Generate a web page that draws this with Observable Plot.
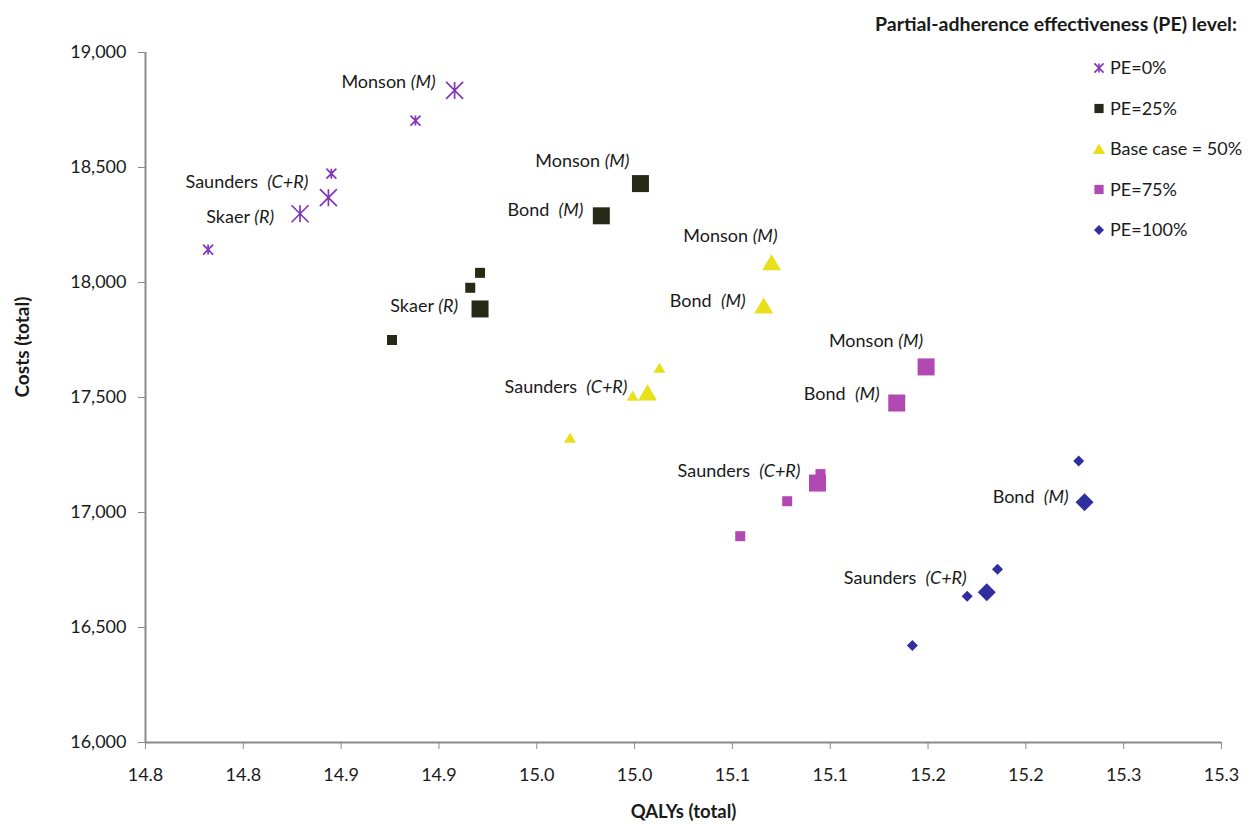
<!DOCTYPE html>
<html>
<head>
<meta charset="utf-8">
<script src="https://cdn.jsdelivr.net/npm/d3@7"></script>
<script src="https://cdn.jsdelivr.net/npm/@observablehq/plot@0.6"></script>
<style>
  html, body { margin: 0; padding: 0; background: #fff; }
  #chart { width: 1257px; height: 824px; }
</style>
</head>
<body>
<div id="chart"></div>
<script>
// ---------- data ----------
const levels = ["PE=0%", "PE=25%", "Base case = 50%", "PE=75%", "PE=100%"];
const legendTitle = "Partial-adherence effectiveness (PE) level:";

const pe0Qalys = [14.782, 14.829, 14.8435, 14.845, 14.888, 14.908];
const pe0Costs = [18143, 18299, 18369, 18473, 18704, 18835];
const pe0Labels = ["", "Skaer (R)", "Saunders  (C+R)", "", "", "Monson (M)"];

const pe25Qalys = [14.876, 14.916, 14.921, 14.921, 14.983, 15.003];
const pe25Costs = [17750, 17977, 18042, 17885, 18290, 18430];
const pe25Labels = ["", "", "", "Skaer (R)", "Bond  (M)", "Monson (M)"];

const pe50Qalys = [14.967, 14.999, 15.0127, 15.0066, 15.066, 15.070];
const pe50Costs = [17324, 17507, 17628, 17520, 17898, 18086];
const pe50Labels = ["", "", "", "Saunders  (C+R)", "Bond  (M)", "Monson (M)"];

const pe75Qalys = [15.054, 15.078, 15.095, 15.0935, 15.134, 15.149];
const pe75Costs = [16897, 17049, 17167, 17128, 17476, 17633];
const pe75Labels = ["", "", "", "Saunders  (C+R)", "Bond  (M)", "Monson (M)"];

const pe100Qalys = [15.142, 15.170, 15.1855, 15.180, 15.227, 15.230];
const pe100Costs = [16422, 16636, 16753, 16653, 17224, 17045];
const pe100Labels = ["", "", "", "Saunders  (C+R)", "", "Bond  (M)"];

const xDomain = [14.75, 15.30];
const yDomain = [16000, 19000];
const xTicks = [14.75, 14.80, 14.85, 14.90, 14.95, 15.00, 15.05, 15.10, 15.15, 15.20, 15.25, 15.30];
const xTickLabels = ["14.8", "14.8", "14.9", "14.9", "15.0", "15.0", "15.1", "15.1", "15.2", "15.2", "15.3", "15.3"];
const yTicks = [16000, 16500, 17000, 17500, 18000, 18500, 19000];
const xTitle = "QALYs (total)";
const yTitle = "Costs (total)";

// ---------- styling / layout config ----------
const levelColors = ["#8236b8", "#262a16", "#e9e01c", "#b04ab2", "#2f2f9f"];
const symAsterisk = { draw(ctx, size) { const r = Math.sqrt(size / Math.PI);
  ctx.moveTo(0, -r); ctx.lineTo(0, r);
  ctx.moveTo(-r, -r); ctx.lineTo(r, r);
  ctx.moveTo(-r, r); ctx.lineTo(r, -r); } };
const symSquare = { draw(ctx, size) { const r = Math.sqrt(size / Math.PI); ctx.rect(-r, -r, 2 * r, 2 * r); } };
const symTriangle = { draw(ctx, size) { const r = Math.sqrt(size / Math.PI);
  ctx.moveTo(0, -0.9 * r); ctx.lineTo(r, 0.8 * r); ctx.lineTo(-r, 0.8 * r); ctx.closePath(); } };
const symDiamond = { draw(ctx, size) { const r = Math.sqrt(size / Math.PI);
  ctx.moveTo(0, -r); ctx.lineTo(r, 0); ctx.lineTo(0, r); ctx.lineTo(-r, 0); ctx.closePath(); } };
const symbols = [symAsterisk, symSquare, symTriangle, symSquare, symDiamond];
const bigR = [8.5, 8.5, 9.5, 8.5, 9];
const smallR = [5, 5, 6, 5, 5.5];
const legendR = [4.6, 4.6, 6.2, 4.6, 5];

const labelNudge = {
  "PE=0%|Monson (M)": [-19, -8],
  "PE=0%|Saunders  (C+R)": [-20, -15],
  "PE=0%|Skaer (R)": [-26, 4],
  "PE=25%|Monson (M)": [-11, -22],
  "PE=25%|Bond  (M)": [-18, -6],
  "PE=25%|Skaer (R)": [-22, -3],
  "Base case = 50%|Monson (M)": [6, -26],
  "Base case = 50%|Bond  (M)": [-18, -5],
  "Base case = 50%|Saunders  (C+R)": [-20, -6],
  "PE=75%|Monson (M)": [-3, -26],
  "PE=75%|Bond  (M)": [-17, -9],
  "PE=75%|Saunders  (C+R)": [-17, -12],
  "PE=100%|Bond  (M)": [-16, -5],
  "PE=100%|Saunders  (C+R)": [-20, -14]
};

// ---------- build table ----------
const seriesArrays = [
  [pe0Qalys, pe0Costs, pe0Labels],
  [pe25Qalys, pe25Costs, pe25Labels],
  [pe50Qalys, pe50Costs, pe50Labels],
  [pe75Qalys, pe75Costs, pe75Labels],
  [pe100Qalys, pe100Costs, pe100Labels]
];
const rows = seriesArrays.flatMap(([q, c, l], i) =>
  q.map((x, j) => ({ level: levels[i], li: i, qalys: x, costs: c[j], label: l[j] })));

const axisGray = "#8a8a8a";
const textColor = "#1a1a1a";
const fontStack = "Lato, 'Open Sans', sans-serif";

const dotMarks = levels.map((lv, i) => Plot.dot(rows.filter(d => d.level === lv), {
  x: "qalys", y: "costs",
  symbol: symbols[i],
  r: d => d.label ? bigR[i] : smallR[i],
  fill: i === 0 ? "none" : levelColors[i],
  stroke: i === 0 ? levelColors[i] : "none",
  strokeWidth: i === 0 ? 1.7 : 0
}));

const labelMarks = rows.filter(d => d.label).map(d => {
  const n = labelNudge[d.level + "|" + d.label] || [-18, -6];
  return Plot.text([d], {
    x: "qalys", y: "costs", text: "label",
    textAnchor: "end", dx: n[0], dy: n[1],
    fill: textColor, fontSize: 18
  });
});

const plot = Plot.plot({
  width: 1257, height: 824,
  marginLeft: 145, marginRight: 36, marginTop: 52, marginBottom: 82,
  style: { fontFamily: fontStack, fontSize: "18px", background: "#fff", color: textColor },
  x: { domain: xDomain },
  y: { domain: yDomain },
  r: { type: "identity" },
  marks: [
    Plot.axisY({ ticks: yTicks, tickSize: 7, tickPadding: 12, stroke: axisGray, fill: textColor, label: null }),
    Plot.axisX({ ticks: xTicks, tickFormat: d => xTickLabels[xTicks.indexOf(d)], tickSize: 7, tickPadding: 19, stroke: axisGray, fill: textColor, label: null }),
    Plot.ruleX([xDomain[0]], { stroke: axisGray, strokeWidth: 2 }),
    Plot.ruleY([yDomain[0]], { stroke: axisGray, strokeWidth: 2 }),
    Plot.text([xTitle], { frameAnchor: "bottom", dy: 70, fontWeight: "bold", fontSize: 18.5, fill: textColor, lineAnchor: "middle" }),
    Plot.text([yTitle], { frameAnchor: "left", dx: -123, rotate: -90, fontWeight: "bold", fontSize: 19, fill: textColor, lineAnchor: "middle" }),
    ...dotMarks,
    ...labelMarks
  ]
});

document.getElementById("chart").appendChild(plot);

// italic design-type parts of the study labels, e.g. "(M)", "(R)", "(C+R)"
const svg = d3.select(plot);
svg.selectAll("text").each(function () {
  if (this.querySelector("tspan")) return;
  const s = this.textContent;
  const m = s.match(/^(.*?)(\s+)(\((?:M|R|C\+R)\))$/);
  if (!m) return;
  const t = d3.select(this);
  t.text(null);
  t.append("tspan").text(m[1] + "\u00a0".repeat(m[2].length));
  t.append("tspan").attr("font-style", "italic").style("font-style", "italic").text(m[3]);
});

// legend (top right, inside the figure)
const lg = svg.append("g").attr("font-family", fontStack).attr("font-size", 18)
  .attr("fill", textColor).attr("text-anchor", "start");
lg.append("text").attr("x", 1237).attr("y", 24).attr("dy", "0.35em")
  .attr("text-anchor", "end").attr("font-weight", "bold").attr("font-size", 19.5).text(legendTitle);
levels.forEach((lv, i) => {
  const y = 68 + i * 40.5;
  lg.append("path")
    .attr("transform", `translate(1099,${y})`)
    .attr("d", d3.symbol(symbols[i], Math.PI * legendR[i] * legendR[i])())
    .attr("fill", i === 0 ? "none" : levelColors[i])
    .attr("stroke", i === 0 ? levelColors[i] : "none")
    .attr("stroke-width", i === 0 ? 1.6 : 0);
  lg.append("text").attr("x", 1110).attr("y", y).attr("dy", "0.35em")
    .attr("text-anchor", "start").text(lv);
});
</script>
</body>
</html>
